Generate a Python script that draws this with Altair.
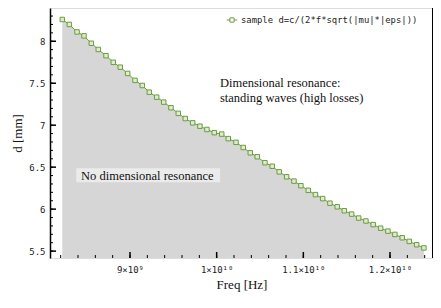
import altair as alt
import numpy as np
import pandas as pd

# ---- data ----
freq_ghz = [8.219, 8.300, 8.389, 8.469, 8.554, 8.634, 8.723, 8.807, 8.888, 8.973,
            9.058, 9.142, 9.223, 9.308, 9.389, 9.473, 9.557, 9.638, 9.723, 9.807,
            9.888, 9.972, 10.058, 10.134, 10.223, 10.307, 10.388, 10.468, 10.557, 10.641,
            10.722, 10.807, 10.892, 10.972, 11.057, 11.140, 11.223, 11.307, 11.391, 11.472,
            11.557, 11.638, 11.722, 11.806, 11.892, 11.976, 12.056, 12.141, 12.222, 12.307,
            12.391]
d_mm = [8.259, 8.200, 8.111, 8.064, 7.976, 7.902, 7.828, 7.749, 7.691, 7.616,
        7.534, 7.473, 7.393, 7.334, 7.275, 7.208, 7.141, 7.079, 7.028, 6.988,
        6.949, 6.911, 6.894, 6.840, 6.796, 6.734, 6.671, 6.624, 6.553, 6.511,
        6.444, 6.385, 6.334, 6.279, 6.224, 6.173, 6.126, 6.071, 6.028, 5.981,
        5.941, 5.894, 5.859, 5.816, 5.773, 5.738, 5.699, 5.659, 5.616, 5.576,
        5.538]
series_name = "sample d=c/(2*f*sqrt(|mu|*|eps|))"

x_tick_values = [9e9, 1e10, 1.1e10, 1.2e10]
x_tick_labels = ["9×10⁹", "1×10¹⁰", "1.1×10¹⁰", "1.2×10¹⁰"]
y_tick_values = [5.5, 6.0, 6.5, 7.0, 7.5, 8.0]

X_DOMAIN = [8.077e9, 12.496e9]
Y_DOMAIN = [5.418, 8.396]

ann_text = ["Dimensional resonance:", "standing waves (high losses)", "No dimensional resonance"]
ann_f = [1.0038e10, 1.0038e10, 8.435e9]
ann_d = [7.502, 7.326, 6.396]
box_f = [8.38e9, 1.004e10]
box_d = [6.321, 6.486]

W, H = 383, 250
SERIF = "Liberation Serif"
MONO = "DejaVu Sans Mono"
GREEN = "#6a9e3f"

df = pd.DataFrame({"f": [v * 1e9 for v in freq_ghz], "d": d_mm, "series": series_name})
ann = pd.DataFrame({"f": ann_f, "d": ann_d, "t": ann_text})
box = pd.DataFrame({"f1": [box_f[0]], "f2": [box_f[1]], "d1": [box_d[0]], "d2": [box_d[1]]})

minor_x = pd.DataFrame({"f": np.arange(8.2e9, 12.41e9, 2e8)})
major_x = pd.DataFrame({"f": x_tick_values})
minor_y = pd.DataFrame({"d": np.arange(5.5, 8.31, 0.1)})
major_y = pd.DataFrame({"d": y_tick_values})

label_expr = " : ".join(
    [f"abs(datum.value - {v}) < 1e6 ? '{l}'" for v, l in zip(x_tick_values, x_tick_labels)]
) + " : ''"

xs = alt.Scale(domain=X_DOMAIN, nice=False, zero=False)
ys = alt.Scale(domain=Y_DOMAIN, nice=False, zero=False)

x_axis = alt.Axis(values=x_tick_values, labelExpr=label_expr, ticks=False, domain=False,
                  grid=False, labelFont=MONO, labelFontSize=9, labelColor="#222",
                  labelPadding=7, title="Freq [Hz]", titleFont=SERIF, titleFontSize=13,
                  titleFontWeight="normal", titleColor="#111", titlePadding=4)
y_axis = alt.Axis(values=y_tick_values, format=".1~f", ticks=False, domain=True,
                  domainColor="#000", domainWidth=1.5, grid=False, labelFont=MONO,
                  labelFontSize=9, labelColor="#222", labelPadding=5, title="d [mm]",
                  titleFont=SERIF, titleFontSize=13, titleFontWeight="normal",
                  titleColor="#111", titlePadding=4)

base = alt.Chart(df)

area = base.mark_area(color="#d6d6d6").encode(
    x=alt.X("f:Q", scale=xs, axis=x_axis),
    y=alt.Y("d:Q", scale=ys, axis=y_axis),
    y2=alt.datum(Y_DOMAIN[0]),
)

line = base.mark_line(strokeWidth=1).encode(
    x="f:Q", y="d:Q",
    color=alt.Color("series:N", scale=alt.Scale(range=[GREEN]),
                    legend=alt.Legend(orient="none", legendX=176, legendY=6, title=None,
                                      labelFont=MONO, labelFontSize=8.9, labelColor="#222",
                                      labelLimit=400,
                                      symbolType="M-1,0H-0.4M0.4,0H1M-0.4,-0.4H0.4V0.4H-0.4Z",
                                      symbolSize=110, symbolStrokeWidth=1,
                                      symbolStrokeColor=GREEN, labelOffset=3)),
)
pts = base.mark_point(shape="square", size=20, filled=False, color=GREEN,
                      fill="#dfeacf", fillOpacity=1, strokeWidth=1).encode(x="f:Q", y="d:Q")

boxl = alt.Chart(box).mark_rect(color="#ebebeb").encode(
    x="f1:Q", x2="f2", y="d1:Q", y2="d2")
texts = alt.Chart(ann).mark_text(align="left", baseline="middle", font=SERIF,
                                 fontSize=12.5, color="#111").encode(
    x="f:Q", y="d:Q", text="t:N")

xminor = alt.Chart(minor_x).mark_rule(color="#000", strokeWidth=1).encode(
    x="f:Q", y=alt.value(H), y2=alt.value(H - 3))
xmajor = alt.Chart(major_x).mark_rule(color="#000", strokeWidth=1.5).encode(
    x="f:Q", y=alt.value(H), y2=alt.value(H - 6))
yminor = alt.Chart(minor_y).mark_rule(color="#000", strokeWidth=1).encode(
    y="d:Q", x=alt.value(0), x2=alt.value(3))
ymajor = alt.Chart(major_y).mark_rule(color="#000", strokeWidth=1.5).encode(
    y="d:Q", x=alt.value(0), x2=alt.value(6))
right_edge = alt.Chart(major_y).mark_rule(color="#000", strokeWidth=1.2).encode(
    x=alt.value(W), y=alt.value(0), y2=alt.value(H))

chart = alt.layer(area, boxl, texts, line, pts, xminor, xmajor, yminor, ymajor, right_edge).properties(
    width=W, height=H,
    autosize=alt.AutoSizeParams(type="none"),
    padding={"left": 42, "top": 0, "right": 0, "bottom": 40},
).configure_view(stroke="#8a8a8a", strokeWidth=2).configure(background="white")

chart.save("out.html", embed_options={"renderer": "svg", "actions": False})
